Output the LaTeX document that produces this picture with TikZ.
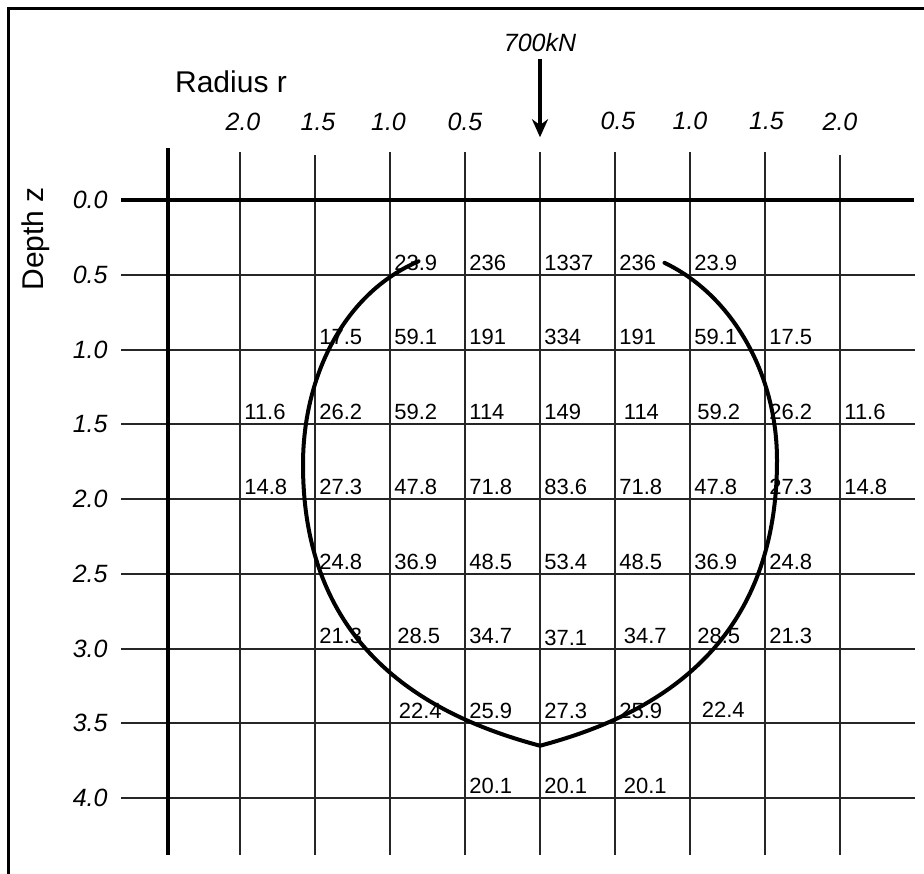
\documentclass[tikz,border=0pt]{standalone}
\usepackage{fontspec}
\setmainfont{Liberation Sans}
\usetikzlibrary{arrows.meta}

\tikzset{
  val/.style={anchor=south west, inner sep=0pt, xshift=2pt, yshift=2pt, font=\fontsize{11}{12}\selectfont},
  tick/.style={inner sep=0pt, font=\fontsize{12.5}{13}\selectfont\itshape},
  gridline/.style={line width=1pt, draw=black!85},
  axisline/.style={line width=2pt},
}

\begin{document}
\begin{tikzpicture}[x=75pt, y=-74.75pt]
            \useasboundingbox (-3.6,-1.338) rectangle (2.56,4.5017);
            % frame
            \draw[line width=1.5pt] (-3.54,4.52) -- (-3.54,-1.284) -- (2.57,-1.284);
            % grid
            \draw[gridline] (-2,-0.32) -- (-2,4.38);
            \draw[gridline] (-1.5,-0.3) -- (-1.5,4.38);
            \draw[gridline] (-1,-0.32) -- (-1,4.38);
            \draw[gridline] (-0.5,-0.32) -- (-0.5,4.38);
            \draw[gridline] (0,-0.32) -- (0,4.38);
            \draw[gridline] (0.5,-0.32) -- (0.5,4.38);
            \draw[gridline] (1,-0.32) -- (1,4.38);
            \draw[gridline] (1.5,-0.32) -- (1.5,4.38);
            \draw[gridline] (2,-0.3) -- (2,4.38);
            \draw[gridline] (-2.79,0.5) -- (2.5,0.5);
            \draw[gridline] (-2.79,1) -- (2.5,1);
            \draw[gridline] (-2.79,1.5) -- (2.5,1.5);
            \draw[gridline] (-2.79,2) -- (2.5,2);
            \draw[gridline] (-2.79,2.5) -- (2.5,2.5);
            \draw[gridline] (-2.79,3) -- (2.5,3);
            \draw[gridline] (-2.79,3.5) -- (2.5,3.5);
            \draw[gridline] (-2.79,4) -- (2.5,4);
            \draw[axisline] (-2.48,-0.35) -- (-2.48,4.38);
            \draw[axisline] (-2.79,0) -- (2.49,0);
            % axis titles and load
            \node[font=\fontsize{15}{15}\selectfont] (radius) at (-2.06,-0.79) {Radius r};
            \node[rotate=90, font=\fontsize{15}{15}\selectfont] (depth) at (-3.36,0.26) {Depth z};
            \node[inner sep=0pt, font=\fontsize{12.5}{13}\selectfont\itshape] (load) at (0,-1.05) {700kN};
            \coordinate (tip) at (0,-0.42);
            \draw[line width=2pt, -{Stealth[length=9pt, width=8pt]}] ([yshift=-3pt]load.south) -- (tip);
            % radius ticks
            \node[tick] (rl20) at (-1.98,-0.52) {2.0};
            \node[tick] (rl15) at (-1.48,-0.52) {1.5};
            \node[tick] (rl10) at (-1.01,-0.52) {1.0};
            \node[tick] (rl05) at (-0.5,-0.52) {0.5};
            \node[tick] (rr05) at (0.52,-0.53) {0.5};
            \node[tick] (rr10) at (1.0,-0.53) {1.0};
            \node[tick] (rr15) at (1.51,-0.53) {1.5};
            \node[tick] (rr20) at (2.0,-0.52) {2.0};
            % depth ticks
            \node[tick, anchor=east] (z00) at (-2.88,0) {0.0};
            \node[tick, anchor=east] (z05) at (-2.88,0.5) {0.5};
            \node[tick, anchor=east] (z10) at (-2.88,1) {1.0};
            \node[tick, anchor=east] (z15) at (-2.88,1.5) {1.5};
            \node[tick, anchor=east] (z20) at (-2.88,2) {2.0};
            \node[tick, anchor=east] (z25) at (-2.88,2.5) {2.5};
            \node[tick, anchor=east] (z30) at (-2.88,3) {3.0};
            \node[tick, anchor=east] (z35) at (-2.88,3.5) {3.5};
            \node[tick, anchor=east] (z40) at (-2.88,4) {4.0};
            % stresses, z = 0.5
            \node[val] (a1) at (-1,0.5) {23.9};
            \node[val] (a2) at (-0.5,0.5) {236};
            \node[val] (a3) at (0,0.5) {1337};
            \node[val] (a4) at (0.5,0.5) {236};
            \node[val] (a5) at (1,0.5) {23.9};
            % z = 1.0
            \node[val] (b1) at (-1.5,1) {17.5};
            \node[val] (b2) at (-1,1) {59.1};
            \node[val] (b3) at (-0.5,1) {191};
            \node[val] (b4) at (0,1) {334};
            \node[val] (b5) at (0.5,1) {191};
            \node[val] (b6) at (1,1) {59.1};
            \node[val] (b7) at (1.5,1) {17.5};
            % z = 1.5
            \node[val] (c1) at (-2,1.5) {11.6};
            \node[val] (c2) at (-1.5,1.5) {26.2};
            \node[val] (c3) at (-1,1.5) {59.2};
            \node[val] (c4) at (-0.5,1.5) {114};
            \node[val] (c5) at (0,1.5) {149};
            \node[val] (c6) at (0.53,1.5) {114};
            \node[val] (c7) at (1.02,1.5) {59.2};
            \node[val] (c8) at (1.5,1.5) {26.2};
            \node[val] (c9) at (2,1.5) {11.6};
            % z = 2.0
            \node[val] (d1) at (-2,2) {14.8};
            \node[val] (d2) at (-1.5,2) {27.3};
            \node[val] (d3) at (-1,2) {47.8};
            \node[val] (d4) at (-0.5,2) {71.8};
            \node[val] (d5) at (0,2) {83.6};
            \node[val] (d6) at (0.5,2) {71.8};
            \node[val] (d7) at (1,2) {47.8};
            \node[val] (d8) at (1.5,2) {27.3};
            \node[val] (d9) at (2,2) {14.8};
            % z = 2.5
            \node[val] (e1) at (-1.5,2.5) {24.8};
            \node[val] (e2) at (-1,2.5) {36.9};
            \node[val] (e3) at (-0.5,2.5) {48.5};
            \node[val] (e4) at (0,2.5) {53.4};
            \node[val] (e5) at (0.5,2.5) {48.5};
            \node[val] (e6) at (1,2.5) {36.9};
            \node[val] (e7) at (1.5,2.5) {24.8};
            % z = 3.0
            \node[val] (f1) at (-1.5,3) {21.3};
            \node[val] (f2) at (-0.98,3) {28.5};
            \node[val] (f3) at (-0.5,3) {34.7};
            \node[val] (f4) at (0,3.01) {37.1};
            \node[val] (f5) at (0.53,3) {34.7};
            \node[val] (f6) at (1.02,3) {28.5};
            \node[val] (f7) at (1.5,3) {21.3};
            % z = 3.5
            \node[val] (g1) at (-0.97,3.5) {22.4};
            \node[val] (g2) at (-0.5,3.5) {25.9};
            \node[val] (g3) at (0,3.5) {27.3};
            \node[val] (g4) at (0.5,3.5) {25.9};
            \node[val] (g5) at (1.05,3.49) {22.4};
            % z = 4.0
            \node[val] (h1) at (-0.5,4) {20.1};
            \node[val] (h2) at (0,4) {20.1};
            \node[val] (h3) at (0.53,4) {20.1};
            % pressure bulb
            \draw[line width=2pt, line cap=round] (-0.81,0.41) .. controls (-1.3,0.62) and (-1.58,1.17) .. (-1.58,1.77)
              .. controls (-1.58,3.0) and (-0.75,3.45) .. (0,3.65)
              .. controls (0.75,3.45) and (1.58,3.0) .. (1.58,1.74)
              .. controls (1.58,1.15) and (1.27,0.63) .. (0.83,0.42);
          \end{tikzpicture}
\end{document}
